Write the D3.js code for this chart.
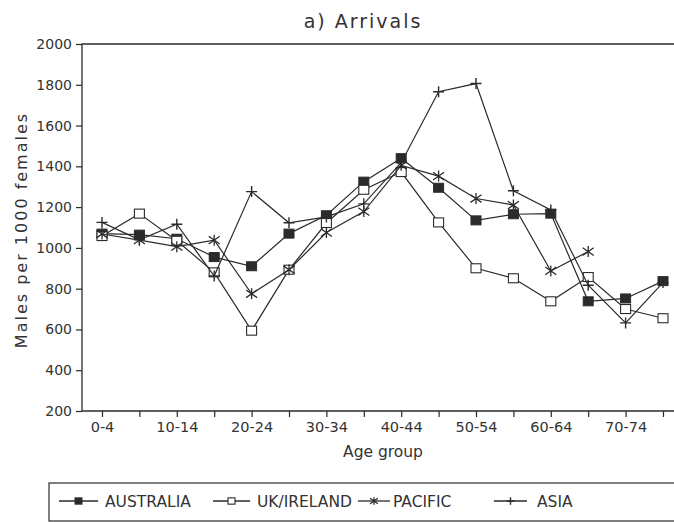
<!DOCTYPE html>
<html>
<head>
<meta charset="utf-8">
<script src="https://cdn.jsdelivr.net/npm/d3@7"></script>
<style>
  html, body { margin: 0; padding: 0; background: #fff; }
  svg { display: block; }
  text { fill: #333; }
</style>
</head>
<body>
<svg id="chart" width="674" height="522"></svg>
<script>
// Sex ratio of arrivals (males per 1000 females) by five-year age group
const ageGroups = ["0-4", "5-9", "10-14", "15-19", "20-24", "25-29", "30-34", "35-39",
                   "40-44", "45-49", "50-54", "55-59", "60-64", "65-69", "70-74", "75-79"];
const tickLabels = ["0-4", "10-14", "20-24", "30-34", "40-44", "50-54", "60-64", "70-74"];
const yTicks = [200, 400, 600, 800, 1000, 1200, 1400, 1600, 1800, 2000];

const australia = [1070, 1065, 1045, 955, 910, 1070, 1160, 1325, 1440, 1295, 1135, 1165, 1168, 738, 752, 837];
const ukIreland = [1058, 1168, 1035, 880, 594, 893, 1122, 1285, 1372, 1125, 900, 851, 738, 857, 700, 655];
const pacific   = [1068, 1038, 1006, 1038, 775, 893, 1075, 1178, 1405, 1352, 1242, 1210, 887, 982];
const asia      = [1125, 1040, 1116, 862, 1276, 1123, 1152, 1216, 1418, 1766, 1806, 1280, 1186, 817, 632, 830];

const seriesNames = ["AUSTRALIA", "UK/IRELAND", "PACIFIC", "ASIA"];
const seriesValues = [australia, ukIreland, pacific, asia];
const markerKinds = ["filled", "open", "star", "plus"];

const ink = "#2b2b2b";
const font = "DejaVu Sans, sans-serif";
const svg = d3.select("#chart");

const x = d3.scalePoint().domain(ageGroups).range([102, 663]);
const y = d3.scaleLinear().domain([200, 2000]).range([411, 44]);
const plotLeft = 82, plotTop = y(2000), plotBottom = y(200), plotRight = 690;

// frame: left, top, bottom (right edge runs past the page)
svg.append("path")
  .attr("d", `M${plotRight},${plotTop}H${plotLeft}V${plotBottom}H${plotRight}`)
  .attr("fill", "none").attr("stroke", ink).attr("stroke-width", 1.3);

// y axis
const yAxis = svg.append("g").attr("transform", `translate(${plotLeft},0)`)
  .call(d3.axisLeft(y).tickValues(yTicks).tickSize(6).tickPadding(4).tickFormat(d3.format("d")));
yAxis.select(".domain").remove();
yAxis.selectAll("line").attr("stroke", ink).attr("stroke-width", 1.2);
yAxis.selectAll("text").attr("font-family", font).attr("font-size", 14).attr("fill", "#333");

// x axis
const xAxis = svg.append("g").attr("transform", `translate(0,${plotBottom})`)
  .call(d3.axisBottom(x).tickSize(6).tickPadding(5)
    .tickFormat(d => tickLabels.includes(d) ? d : ""));
xAxis.select(".domain").remove();
xAxis.selectAll("line").attr("stroke", ink).attr("stroke-width", 1.2);
xAxis.selectAll("text").attr("font-family", font).attr("font-size", 14.5).attr("fill", "#333");

// titles
svg.append("text").attr("x", 363).attr("y", 28).attr("text-anchor", "middle")
  .attr("font-family", font).attr("font-size", 19).attr("letter-spacing", 2).text("a) Arrivals");
svg.append("text").attr("x", 383).attr("y", 457).attr("text-anchor", "middle")
  .attr("font-family", font).attr("font-size", 15.5).text("Age group");
svg.append("text").attr("transform", "translate(27,230) rotate(-90)").attr("text-anchor", "middle")
  .attr("font-family", font).attr("font-size", 16).attr("letter-spacing", 2)
  .text("Males per 1000 females");

// marker drawing
function drawMarker(g, kind, cx, cy, k = 1) {
  const w = 10 * k, h = 9 * k, r = 5.5 * k;
  if (kind === "filled") {
    g.append("rect").attr("x", cx - w / 2).attr("y", cy - h / 2).attr("width", w).attr("height", h)
      .attr("fill", ink).attr("stroke", ink).attr("stroke-width", 1);
  } else if (kind === "open") {
    g.append("rect").attr("x", cx - w / 2).attr("y", cy - h / 2).attr("width", w).attr("height", h)
      .attr("fill", "#fff").attr("stroke", ink).attr("stroke-width", 1.1);
  } else if (kind === "star") {
    g.append("path")
      .attr("d", `M${cx - r},${cy - r * 0.7}L${cx + r},${cy + r * 0.7}M${cx - r},${cy + r * 0.7}L${cx + r},${cy - r * 0.7}M${cx},${cy - r}V${cy + r}`)
      .attr("stroke", ink).attr("stroke-width", 1.3).attr("fill", "none");
  } else {
    g.append("path").attr("d", `M${cx - r},${cy}H${cx + r}M${cx},${cy - r}V${cy + r}`)
      .attr("stroke", ink).attr("stroke-width", 1.4).attr("fill", "none");
  }
}

const line = d3.line().x((d, i) => x(ageGroups[i])).y(d => y(d));

seriesValues.forEach((vals, s) => {
  const g = svg.append("g");
  g.append("path").datum(vals).attr("d", line)
    .attr("fill", "none").attr("stroke", ink).attr("stroke-width", 1.2);
  vals.forEach((v, i) => drawMarker(g, markerKinds[s], x(ageGroups[i]), y(v)));
});

// legend
const legend = svg.append("g");
legend.append("rect").attr("x", 49).attr("y", 483).attr("width", 640).attr("height", 38)
  .attr("fill", "none").attr("stroke", ink).attr("stroke-width", 1.2);
const legendLineX = [[59, 98], [213, 250], [358, 390], [494, 527]];
const legendTextX = [105, 257, 393, 537];
seriesNames.forEach((name, s) => {
  const [x1, x2] = legendLineX[s], ly = 501;
  legend.append("line").attr("x1", x1).attr("x2", x2).attr("y1", ly).attr("y2", ly)
    .attr("stroke", ink).attr("stroke-width", 1.3);
  drawMarker(legend, markerKinds[s], (x1 + x2) / 2, ly, 0.7);
  legend.append("text").attr("x", legendTextX[s]).attr("y", ly + 6)
    .attr("font-family", font).attr("font-size", 15.5).text(name);
});
</script>
</body>
</html>
